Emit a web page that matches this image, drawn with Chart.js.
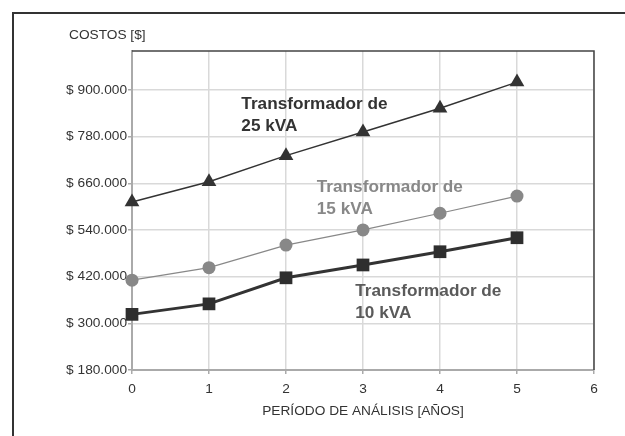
<!DOCTYPE html>
<html>
<head>
<meta charset="utf-8">
<script src="https://cdn.jsdelivr.net/npm/chart.js@4"></script>
<style>
  html, body { margin: 0; padding: 0; background: #fff; }
  #wrap { width: 625px; height: 436px; }
</style>
</head>
<body>
<div id="wrap"><canvas id="chart" width="625" height="436"></canvas></div>
<script>
const years = [0, 1, 2, 3, 4, 5];
const cost25 = [612000, 664000, 731000, 792000, 853000, 920000];
const cost15 = [411000, 443000, 501000, 540000, 583000, 627000];
const cost10 = [323000, 350000, 417000, 450000, 484000, 520000];

const yTicks = [180000, 300000, 420000, 540000, 660000, 780000, 900000];
const yMin = 180000, yMax = 1000000;

// label anchors in data units: [x, y, lines, color]
const notes = [
  [1.42, 851000, ["Transformador de", "25 kVA"], "#333"],
  [2.40, 638000, ["Transformador de", "15 kVA"], "#888"],
  [2.90, 371000, ["Transformador de", "10 kVA"], "#5a5a5a"]
];

const pts = vals => years.map((x, i) => ({ x, y: vals[i] }));
const money = v => "$ " + String(v).replace(/\B(?=(\d{3})+(?!\d))/g, ".");

const decor = {
  id: "decor",
  beforeDraw(chart) {
    const c = chart.ctx;
    c.save();
    c.fillStyle = "#fff";
    c.fillRect(0, 0, chart.width, chart.height);
    c.strokeStyle = "#333";
    c.lineWidth = 2;
    c.beginPath();
    c.moveTo(13, chart.height);
    c.lineTo(13, 13);
    c.lineTo(chart.width, 13);
    c.stroke();
    c.fillStyle = "#333";
    c.font = "13.7px 'Liberation Sans', Arial, sans-serif";
    c.textBaseline = "alphabetic";
    c.fillText("COSTOS [$]", 69, 39);
    c.restore();
  },
  beforeDatasetsDraw(chart) {
    const { ctx: c, chartArea: a, scales } = chart;
    c.save();
    c.strokeStyle = "#444";
    c.lineWidth = 1.5;
    c.beginPath();
    c.moveTo(a.left, a.top);
    c.lineTo(a.right, a.top);
    c.lineTo(a.right, a.bottom);
    c.stroke();
    c.font = "bold 17.2px 'Liberation Sans', Arial, sans-serif";
    notes.forEach(([x, y, lines, color]) => {
      const px = scales.x.getPixelForValue(x);
      const py = scales.y.getPixelForValue(y);
      c.fillStyle = color;
      lines.forEach((t, i) => c.fillText(t, px, py + i * 22));
    });
    c.restore();
  }
};

const tickFont = { family: "'Liberation Sans', Arial, sans-serif", size: 13.7 };

new Chart(document.getElementById("chart"), {
  type: "line",
  data: {
    datasets: [
      {
        label: "25 kVA",
        data: pts(cost25),
        borderColor: "#333",
        backgroundColor: "#333",
        borderWidth: 1.5,
        pointStyle: "triangle",
        pointRadius: 8.5,
        pointBorderWidth: 0,
        clip: false
      },
      {
        label: "15 kVA",
        data: pts(cost15),
        borderColor: "#888",
        backgroundColor: "#888",
        borderWidth: 1.2,
        pointStyle: "circle",
        pointRadius: 6.5,
        pointBorderWidth: 0,
        clip: false
      },
      {
        label: "10 kVA",
        data: pts(cost10),
        borderColor: "#333",
        backgroundColor: "#2e2e2e",
        borderWidth: 3,
        pointStyle: "rect",
        pointRadius: 9,
        pointBorderWidth: 0,
        clip: false
      }
    ]
  },
  options: {
    responsive: false,
    animation: false,
    layout: { padding: { top: 51, right: 31, left: 0, bottom: 0 } },
    plugins: { legend: { display: false }, tooltip: { enabled: false } },
    elements: { line: { tension: 0 } },
    scales: {
      x: {
        type: "linear",
        min: 0,
        max: 6,
        ticks: { stepSize: 1, color: "#333", font: tickFont, padding: 7, maxRotation: 0 },
        grid: { color: "#d9d9d9", lineWidth: 1.5, tickColor: "#aaa", tickLength: 4 },
        border: { color: "#aaa", width: 2 },
        title: {
          display: true,
          text: "PERÍODO DE ANÁLISIS [AÑOS]",
          color: "#333",
          font: tickFont,
          padding: { top: 0, bottom: 17 }
        },
        afterFit(scale) { scale.height = 66; }
      },
      y: {
        min: yMin,
        max: yMax,
        afterBuildTicks(scale) { scale.ticks = yTicks.map(v => ({ value: v })); },
        ticks: {
          color: "#333",
          font: tickFont,
          padding: 1,
          callback: v => money(v)
        },
        grid: { color: "#d9d9d9", lineWidth: 1.5, tickColor: "#aaa", tickLength: 4 },
        border: { color: "#aaa", width: 2 },
        afterFit(scale) { scale.width = 132; }
      }
    }
  },
  plugins: [decor]
});
</script>
</body>
</html>
